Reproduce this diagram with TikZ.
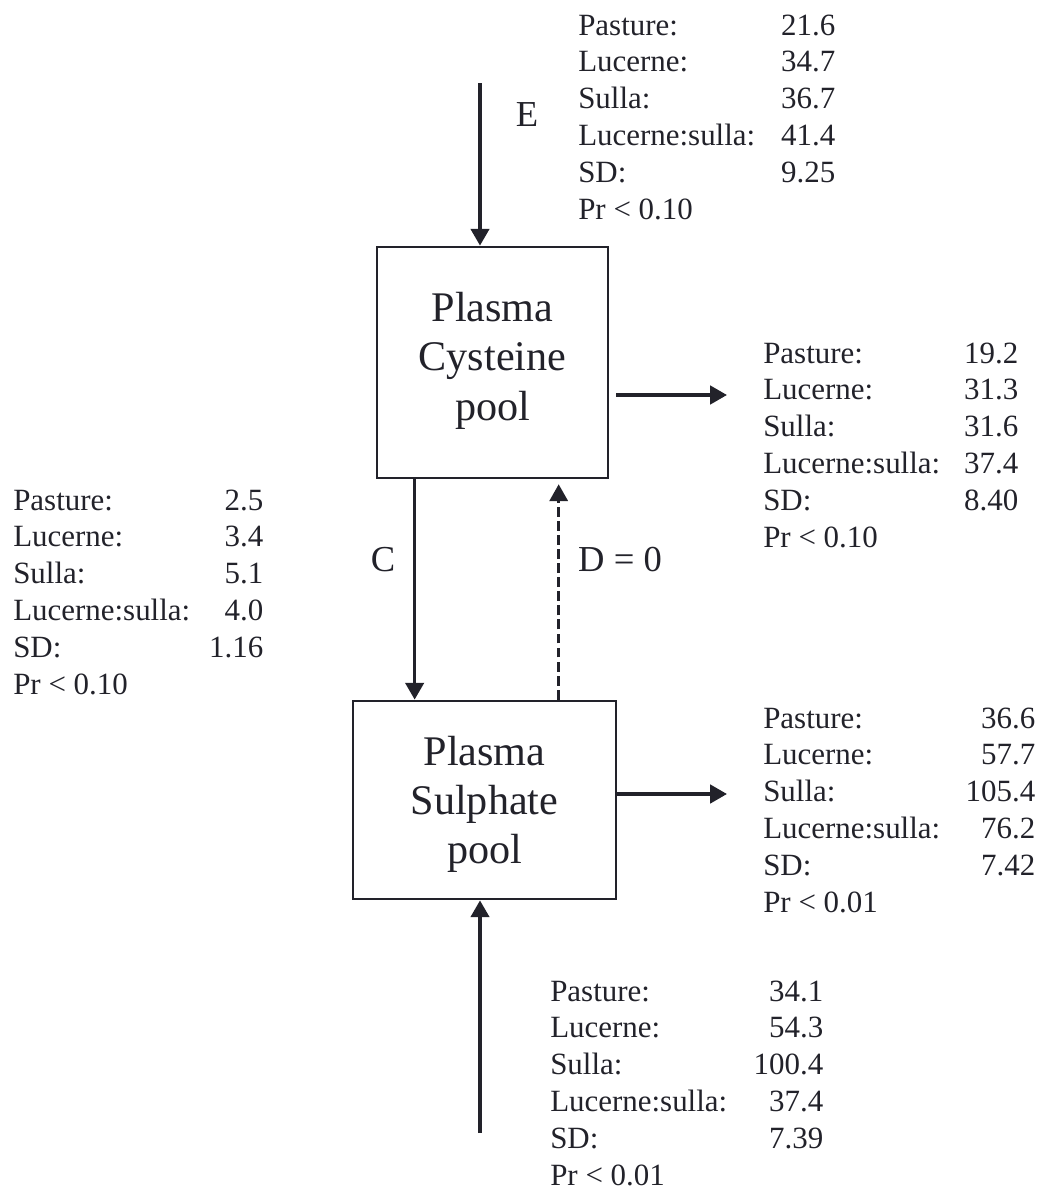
\documentclass[tikz,border=0pt]{standalone}
\usepackage{fontspec}
\setmainfont{Liberation Serif}
\usetikzlibrary{arrows.meta}
\definecolor{ink}{HTML}{22222A}
\newdimen\pxu
\pxu=0.7113pt
% one block of treatment means
\newcommand{\statrows}[7]{%
	\begin{tabular*}{#1}{@{}l@{\extracolsep{\fill}}r@{}}
		Pasture: & #2\\
		Lucerne: & #3\\
		Sulla: & #4\\
		Lucerne:sulla: & #5\\
		SD: & #6\\
		\multicolumn{2}{@{}l}{Pr < #7}
	\end{tabular*}}
\tikzset{
	pool/.style = {draw=ink, line width=1.9pt, align=center, text=ink, font=\fontsize{30}{35}\selectfont},
	flow/.style = {draw=ink, line width=2.6pt, -{Triangle[length=12pt, width=13pt]}},
	lbl/.style = {text=ink, font=\fontsize{26}{30}\selectfont},
	stats/.style = {anchor=north west, inner sep=0pt, text=ink, font=\fontsize{22}{26.2}\selectfont}
}

\begin{document}
\begin{tikzpicture}[x=0.025cm, y=-0.025cm]
	\useasboundingbox (0,0) rectangle (1040,1190);
	% the two pools
	\node[pool, minimum width=5.775cm, minimum height=5.775cm, text depth=9pt] (cys) at (492.5,362.5) {Plasma\\Cysteine\\pool};
	\node[pool, minimum width=6.575cm, minimum height=4.95cm, text depth=0pt] (sul) at (484.5,800) {Plasma\\Sulphate\\pool};
	% flows in and out
	\coordinate (eTop) at (480,83);
	\coordinate (cysOut) at (727,395);
	\coordinate (sulOut) at (727,794);
	\coordinate (aIn) at (480,1133);
	\draw[flow] (eTop) -- (eTop |- cys.north);
	\draw[flow] ([xshift=0.975cm]cys.south west) -- ([xshift=0.975cm]cys.south west |- sul.north);
	\draw[flow, line width=1.9pt, dash pattern=on 7pt off 3pt, shorten >=3.5pt] ([xshift=5.175cm]sul.north west) -- ([xshift=5.175cm]sul.north west |- cys.south);
	\draw[flow, shorten <=5pt] (cysOut -| cys.east) -- (cysOut);
	\draw[flow] (sulOut -| sul.east) -- (sulOut);
	\draw[flow] (aIn) -- (aIn |- sul.south);
	\node[lbl] (eLbl) at (527,115) {E};
	\node[lbl] (cLbl) at (383,560) {C};
	\node[lbl] (dLbl) at (620,560) {D = 0};
	% means for each flow
	\foreach \nm/\x/\y/\w/\a/\b/\c/\d/\s/\p in {
		inE/578/9/257/21.6/34.7/36.7/41.4/9.25/0.10,
		outCys/763/337/255/19.2/31.3/31.6/37.4/8.40/0.10,
		rateC/13/484/250/2.5/3.4/5.1/4.0/1.16/0.10,
		outSul/763/702/272/36.6/57.7/105.4/76.2/7.42/0.01,
		inA/550/975/273/34.1/54.3/100.4/37.4/7.39/0.01} {
		\node[stats] (\nm) at (\x,\y) {\statrows{\w\pxu}{\a}{\b}{\c}{\d}{\s}{\p}};
	}
\end{tikzpicture}
\end{document}
